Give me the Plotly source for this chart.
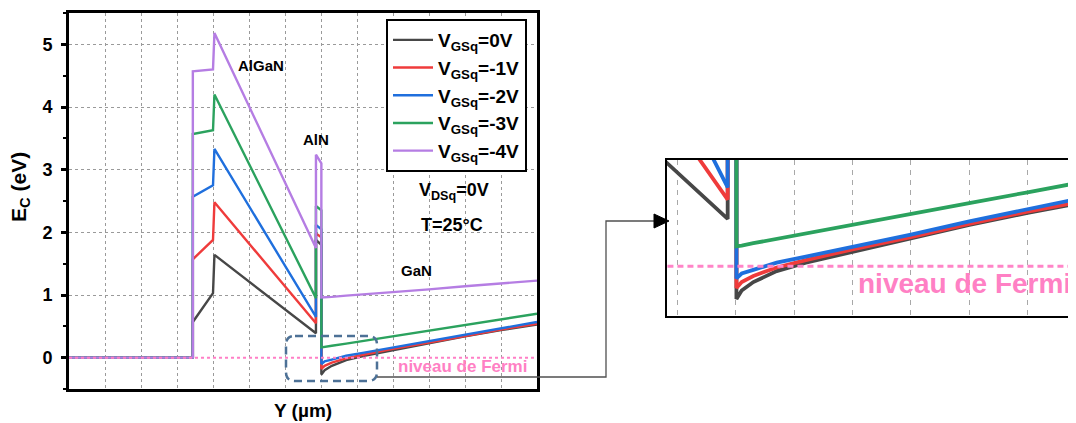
import plotly.graph_objects as go

# page body has an 8px margin: the figure is placed at (8, 8)
OX, OY = 8, 8
W, H = 1076 - OX, 423 - OY

# ---------------- data ----------------
labels = ["V<sub>GSq</sub>=0V", "V<sub>GSq</sub>=-1V", "V<sub>GSq</sub>=-2V",
          "V<sub>GSq</sub>=-3V", "V<sub>GSq</sub>=-4V"]
colors = ["#474747", "#ef3b3b", "#1f6fdd", "#2ba25e", "#b57de3"]

# structure x positions (arbitrary µm units, 13 grid divisions)
x_struct = [0.0, 3.44, 3.44, 4.0, 4.04, 6.86, 6.86, 7.01]
# GaN channel x positions
x_gan = [7.01, 7.1, 7.3, 7.7, 8.2, 9.0, 10.0, 11.0, 12.0, 13.0]

# E_C values at structure points: metal, metal, cap start, cap end, AlGaN peak, AlGaN end, AlN spike, AlN end
ec_struct_0 = [0.0, 0.0, 0.57, 1.03, 1.64, 0.39, 1.88, 1.80]
ec_struct_1 = [0.0, 0.0, 1.57, 1.88, 2.48, 0.55, 1.98, 1.92]
ec_struct_2 = [0.0, 0.0, 2.57, 2.75, 3.33, 0.65, 2.12, 2.05]
ec_struct_3 = [0.0, 0.0, 3.57, 3.63, 4.20, 0.95, 2.42, 2.35]
ec_struct_4 = [0.0, 0.0, 4.57, 4.60, 5.18, 1.75, 3.24, 3.10]

ec_gan_0 = [-0.27, -0.20, -0.13, -0.04, 0.03, 0.12, 0.23, 0.34, 0.44, 0.53]
ec_gan_1 = [-0.18, -0.13, -0.08, -0.01, 0.05, 0.14, 0.24, 0.35, 0.45, 0.54]
ec_gan_2 = [-0.10, -0.06, -0.03, 0.03, 0.08, 0.16, 0.26, 0.37, 0.47, 0.57]
ec_gan_3 = [0.165, 0.17, 0.19, 0.225, 0.27, 0.34, 0.43, 0.52, 0.61, 0.70]
ec_gan_4 = [0.96, 0.96, 0.97, 0.99, 1.01, 1.05, 1.09, 1.14, 1.18, 1.23]

ec_struct = [ec_struct_0, ec_struct_1, ec_struct_2, ec_struct_3, ec_struct_4]
ec_gan = [ec_gan_0, ec_gan_1, ec_gan_2, ec_gan_3, ec_gan_4]

fermi_x = [0.0, 13.0]
fermi_y = [0.0, 0.0]

FONT = "Liberation Sans, Arial, sans-serif"


def px(x):
    return (x - OX) / W


def py(y):
    return 1 - (y - OY) / H


fig = go.Figure()

# main plot traces
for i in range(5):
    fig.add_trace(go.Scatter(
        x=x_struct + x_gan, y=ec_struct[i] + ec_gan[i], mode="lines",
        line=dict(color=colors[i], width=2.4), name=labels[i],
        legendgroup=f"g{i}", xaxis="x", yaxis="y"))
fig.add_trace(go.Scatter(x=fermi_x, y=fermi_y, mode="lines",
                         line=dict(color="#ff7fc6", width=2, dash="3px,3px"),
                         showlegend=False, hoverinfo="skip", xaxis="x", yaxis="y"))

# inset traces
for i in range(5):
    fig.add_trace(go.Scatter(
        x=x_struct + x_gan, y=ec_struct[i] + ec_gan[i], mode="lines",
        line=dict(color=colors[i], width=3.8), showlegend=False,
        xaxis="x2", yaxis="y2"))
fig.add_trace(go.Scatter(x=fermi_x, y=fermi_y, mode="lines",
                         line=dict(color="#ff85c8", width=3, dash="6px,4px"),
                         showlegend=False, hoverinfo="skip", xaxis="x2", yaxis="y2"))

grid = dict(showgrid=True, gridcolor="#9a9a9a", gridwidth=1, griddash="3px,3px")

fig.update_layout(
    width=W, height=H, autosize=False,
    margin=dict(l=0, r=0, t=0, b=0),
    paper_bgcolor="white", plot_bgcolor="white",
    font=dict(family=FONT, color="black"),
    xaxis=dict(domain=[px(69), px(537)], range=[0, 13], dtick=1, tick0=0,
               showticklabels=False, ticks="", zeroline=False,
               showline=True, linecolor="black", linewidth=3, mirror=True,
               anchor="y", **grid),
    yaxis=dict(domain=[py(389), py(13)], range=[-0.5, 5.5], dtick=1, tick0=0,
               ticks="outside", ticklen=5, tickwidth=2.5, tickcolor="black",
               ticklabelstandoff=5,
               minor=dict(dtick=0.5, ticks="outside", ticklen=3, tickwidth=2,
                          tickcolor="black", showgrid=False),
               tickfont=dict(size=18, weight="bold", family=FONT),
               zeroline=False, showline=True, linecolor="black", linewidth=3,
               mirror=True, anchor="x", **grid),
    xaxis2=dict(domain=[px(667), 1.0], range=[5.82, 12.83], dtick=1, tick0=0,
                showticklabels=False, ticks="", zeroline=False,
                showline=True, linecolor="black", linewidth=1.8, mirror=True,
                showgrid=True, gridcolor="#a8a8a8", gridwidth=1.2, griddash="5px,5px",
                anchor="y2"),
    yaxis2=dict(domain=[py(316), py(160)], range=[-0.41, 0.876],
                showticklabels=False, ticks="", zeroline=False, showgrid=False,
                showline=True, linecolor="black", linewidth=1.8, mirror=False,
                anchor="x2"),
    legend=dict(x=px(386), y=py(19), xanchor="left", yanchor="top",
                bgcolor="white", bordercolor="black", borderwidth=2,
                font=dict(size=19, weight="bold", family=FONT),
                tracegroupgap=0, itemwidth=40),
    showlegend=True,
)

ann = []


def text(x, y, t, size, color="black", angle=0):
    ann.append(dict(x=px(x), y=py(y), xref="paper", yref="paper", text=t,
                    showarrow=False, textangle=angle, xanchor="center", yanchor="middle",
                    font=dict(size=size, color=color, weight="bold", family=FONT)))


text(261, 65, "AlGaN", 15)
text(316, 139, "AlN", 15)
text(454, 191, "V<sub>DSq</sub>=0V", 18)
text(452, 225, "T=25°C", 18)
text(416, 270, "GaN", 15)
text(462, 366, "niveau de Fermi", 17, "#ff80c4")
text(964, 283, "niveau de Fermi", 28, "#ff80c4")
text(303, 410, "Y (µm)", 19)
text(20, 187, "E<sub>C</sub> (eV)", 21, angle=-90)
fig.update_layout(annotations=ann)

# dashed rounded box and connector
x0, x1, y0, y1, r = 286, 377, 336, 381, 9
box = (f"M {px(x0 + r)},{py(y0)} L {px(x1 - r)},{py(y0)} Q {px(x1)},{py(y0)} {px(x1)},{py(y0 + r)} "
       f"L {px(x1)},{py(y1 - r)} Q {px(x1)},{py(y1)} {px(x1 - r)},{py(y1)} "
       f"L {px(x0 + r)},{py(y1)} Q {px(x0)},{py(y1)} {px(x0)},{py(y1 - r)} "
       f"L {px(x0)},{py(y0 + r)} Q {px(x0)},{py(y0)} {px(x0 + r)},{py(y0)} Z")
conn = (f"M {px(377)},{py(377)} L {px(606)},{py(377)} L {px(606)},{py(221)} L {px(656)},{py(221)}")
arrow = (f"M {px(669)},{py(221)} L {px(654)},{py(214)} L {px(654)},{py(228)} Z")
fig.update_layout(shapes=[
    dict(type="path", path=box, xref="paper", yref="paper",
         line=dict(color="#4d7196", width=2.5, dash="8px,5px"), layer="above"),
    dict(type="path", path=conn, xref="paper", yref="paper",
         line=dict(color="#505050", width=1.3), layer="above"),
    dict(type="path", path=arrow, xref="paper", yref="paper",
         line=dict(color="black", width=1), fillcolor="black", layer="above"),
])

fig.write_html("out.html")
